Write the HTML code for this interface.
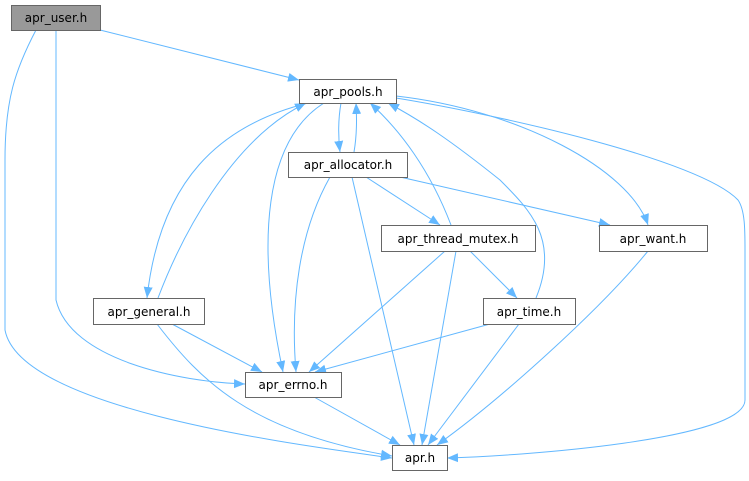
<!DOCTYPE html>
<html><head><meta charset="utf-8"><style>
body{margin:0;background:#fff}
svg text{font-family:"DejaVu Sans","Liberation Sans",sans-serif;font-size:12px;fill:#000}
</style></head><body>
<svg width="749" height="476" viewBox="0 0 749 476" xmlns="http://www.w3.org/2000/svg">
<defs><marker id="a" viewBox="0 0 11 11" refX="11" refY="5.5" markerWidth="11" markerHeight="11" markerUnits="userSpaceOnUse" orient="auto"><path d="M0,1 L11,5.5 L0,10 Z" fill="#63b8ff"/></marker></defs>
<g fill="none" stroke="#63b8ff" stroke-width="1" marker-end="url(#a)">
<path d="M100,30 L299,80"/>
<path d="M56,30 L56,300 C70,360 180,382 245,384"/>
<path d="M36,30 C15,70 5,100 5,160 L5,330 C20,410 300,445 392,458"/>
<path d="M341,103 C338,120 338,135 340,152"/>
<path d="M354,152 C357,135 357,120 356,103"/>
<path d="M308,103 C220,125 160,180 147,298"/>
<path d="M158,298 C180,240 230,140 306,103"/>
<path d="M324,103 C265,140 255,240 283,372"/>
<path d="M396,96 C520,110 630,170 648,225"/>
<path d="M396,98 C500,115 700,160 738,200 C745,210 745,230 745,250 L745,400 C745,440 520,456 447,458"/>
<path d="M330,177 C300,230 290,300 296,372"/>
<path d="M352,177 L414,445"/>
<path d="M366,177 L440,225"/>
<path d="M400,177 L610,225"/>
<path d="M451,225 C430,170 400,130 370,103"/>
<path d="M536,298 C560,240 530,210 500,180 C450,140 420,120 388,103"/>
<path d="M445,251 L309,372"/>
<path d="M456,251 L422,445"/>
<path d="M470,251 L517,298"/>
<path d="M172,324 L262,372"/>
<path d="M157,324 C200,380 250,432 392,456"/>
<path d="M490,324 L315,372"/>
<path d="M519,324 L428,445"/>
<path d="M648,251 C600,310 500,400 437,445"/>
<path d="M314,397 L400,445"/>
</g>
<g stroke="#666" stroke-width="1">
<rect x="11.5" y="5.5" width="89" height="25" fill="#999"/>
<rect x="299.5" y="79.5" width="97" height="24" fill="#fff"/>
<rect x="288.5" y="152.5" width="119" height="25" fill="#fff"/>
<rect x="381.5" y="225.5" width="154" height="26" fill="#fff"/>
<rect x="599.5" y="225.5" width="108" height="26" fill="#fff"/>
<rect x="93.5" y="298.5" width="111" height="26" fill="#fff"/>
<rect x="483.5" y="298.5" width="92" height="26" fill="#fff"/>
<rect x="245.5" y="372.5" width="96" height="25" fill="#fff"/>
<rect x="392.5" y="445.5" width="55" height="25" fill="#fff"/>
</g>
<g text-anchor="middle">
<text x="56" y="22">apr_user.h</text>
<text x="348" y="96">apr_pools.h</text>
<text x="348" y="169">apr_allocator.h</text>
<text x="458" y="243">apr_thread_mutex.h</text>
<text x="653" y="243">apr_want.h</text>
<text x="149" y="316">apr_general.h</text>
<text x="529" y="316">apr_time.h</text>
<text x="293" y="389">apr_errno.h</text>
<text x="420" y="462">apr.h</text>
</g>
</svg>
</body></html>
